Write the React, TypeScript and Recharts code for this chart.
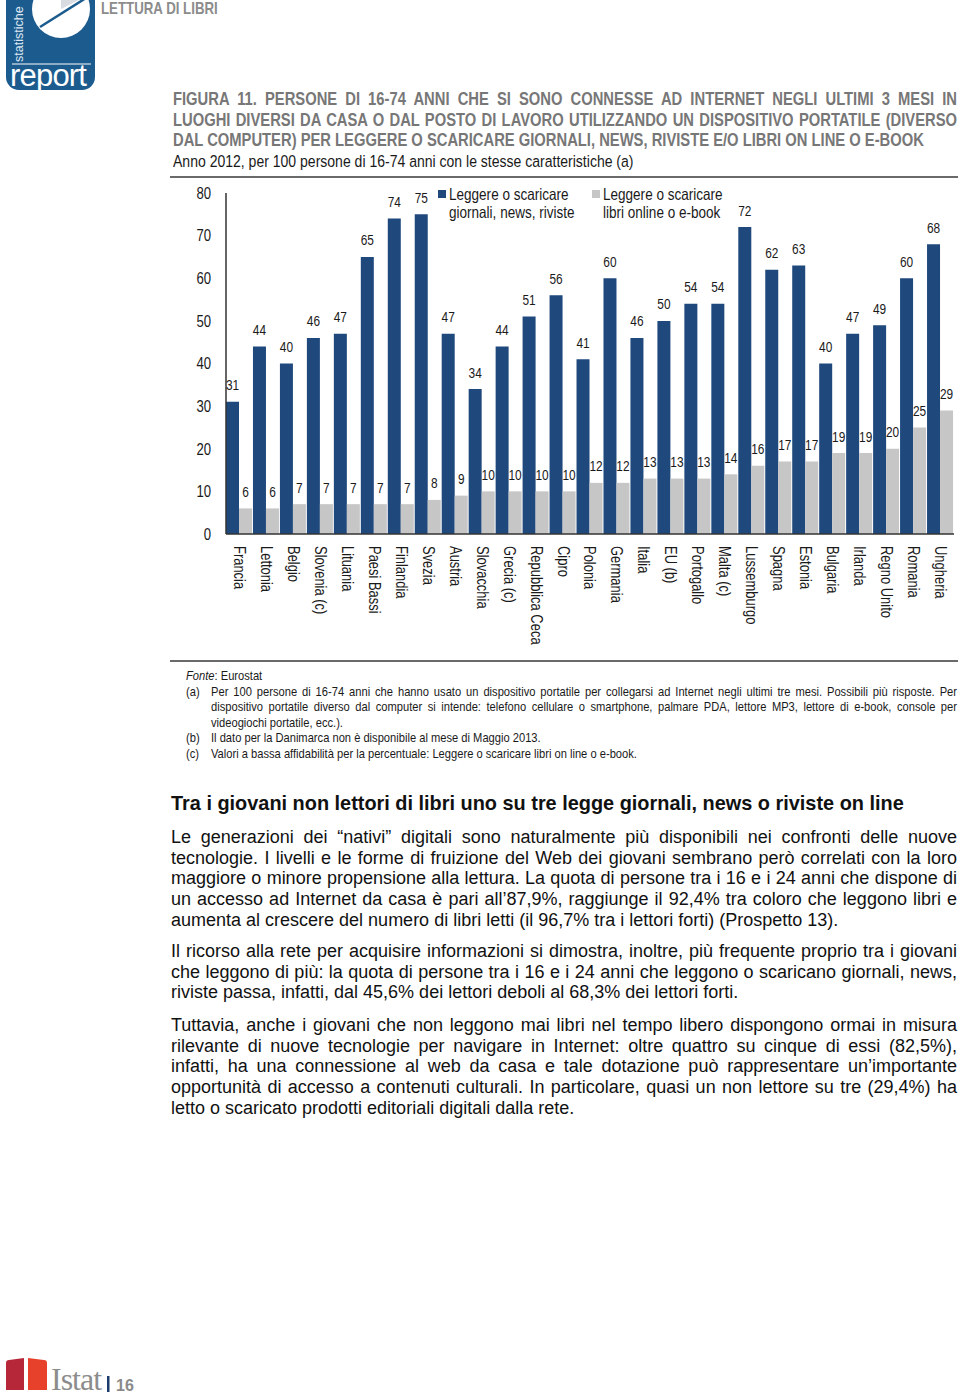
import React from 'react'
import { BarChart, Bar, XAxis, YAxis, Legend, LabelList } from 'recharts'

// paesi in ordine crescente di "libri online o e-book"
const countries = [
  'Francia', 'Lettonia', 'Belgio', 'Slovenia (c)', 'Lituania', 'Paesi Bassi', 'Finlandia',
  'Svezia', 'Austria', 'Slovacchia', 'Grecia (c)', 'Repubblica Ceca', 'Cipro', 'Polonia',
  'Germania', 'Italia', 'EU (b)', 'Portogallo', 'Malta (c)', 'Lussemburgo', 'Spagna',
  'Estonia', 'Bulgaria', 'Irlanda', 'Regno Unito', 'Romania', 'Ungheria',
]
const giornali = [31, 44, 40, 46, 47, 65, 74, 75, 47, 34, 44, 51, 56, 41, 60, 46, 50, 54, 54, 72, 62, 63, 40, 47, 49, 60, 68]
const libri = [6, 6, 7, 7, 7, 7, 7, 8, 9, 10, 10, 10, 10, 12, 12, 13, 13, 13, 14, 16, 17, 17, 19, 19, 20, 25, 29]
const yTicks = [0, 10, 20, 30, 40, 50, 60, 70, 80]
const seriesNames = ['Leggere o scaricare\ngiornali, news, riviste', 'Leggere o scaricare\nlibri online o e-book']

const data = countries.map((c, i) => ({ paese: c, giornali: giornali[i], libri: libri[i] }))

// niente Arial Narrow: Liberation Sans schiacciato in orizzontale
const SANS = '"Liberation Sans", Arial, sans-serif'
const K = 0.82
const BLUE = '#1f487c'
const GREY = '#c6c6c6'
const INK = '#1a1a1a'

const titleLines = [
  'FIGURA 11. PERSONE DI 16-74 ANNI CHE SI SONO CONNESSE AD INTERNET NEGLI ULTIMI 3 MESI IN',
  'LUOGHI DIVERSI DA CASA O DAL POSTO DI LAVORO UTILIZZANDO UN DISPOSITIVO PORTATILE (DIVERSO',
  'DAL COMPUTER) PER LEGGERE O SCARICARE GIORNALI, NEWS, RIVISTE E/O LIBRI ON LINE O E-BOOK',
]

const noteA = [
  'Per 100 persone di 16-74 anni che hanno usato un dispositivo portatile per collegarsi ad Internet negli ultimi tre mesi. Possibili più risposte. Per',
  'dispositivo portatile diverso dal computer si intende: telefono cellulare o smartphone, palmare PDA, lettore MP3, lettore di e-book, console per',
  'videogiochi portatile, ecc.).',
]

const para1 = [
  'Le generazioni dei “nativi” digitali sono naturalmente più disponibili nei confronti delle nuove',
  'tecnologie. I livelli e le forme di fruizione del Web dei giovani sembrano però correlati con la loro',
  'maggiore o minore propensione alla lettura. La quota di persone tra i 16 e i 24 anni che dispone di',
  'un accesso ad Internet da casa è pari all’87,9%, raggiunge il 92,4% tra coloro che leggono libri e',
  'aumenta al crescere del numero di libri letti (il 96,7% tra i lettori forti) (Prospetto 13).',
]
const para2 = [
  'Il ricorso alla rete per acquisire informazioni si dimostra, inoltre, più frequente proprio tra i giovani',
  'che leggono di più: la quota di persone tra i 16 e i 24 anni che leggono o scaricano giornali, news,',
  'riviste passa, infatti, dal 45,6% dei lettori deboli al 68,3% dei lettori forti.',
]
const para3 = [
  'Tuttavia, anche i giovani che non leggono mai libri nel tempo libero dispongono ormai in misura',
  'rilevante di nuove tecnologie per navigare in Internet: oltre quattro su cinque di essi (82,5%),',
  'infatti, ha una connessione al web da casa e tale dotazione può rappresentare un’importante',
  'opportunità di accesso a contenuti culturali. In particolare, quasi un non lettore su tre (29,4%) ha',
  'letto o scaricato prodotti editoriali digitali dalla rete.',
]

// righe giustificate una per una, l'ultima resta a sinistra
function Lines({ lines, style }: { lines: string[]; style?: React.CSSProperties }) {
  return (
    <div style={style}>
      {lines.map((l, i) => (
        <div key={i} style={{ textAlign: 'justify', textAlignLast: i < lines.length - 1 ? 'justify' : 'left', whiteSpace: 'nowrap' }}>
          {l}
        </div>
      ))}
    </div>
  )
}

// blocco html "narrow"
function Narrow({ left, top, width, style, children }: any) {
  return (
    <div
      style={{
        position: 'absolute', left, top, width: width ? width / K : undefined,
        transform: `scaleX(${K})`, transformOrigin: 'left top', fontFamily: SANS, ...style,
      }}
    >
      {children}
    </div>
  )
}

const CountryTick = (props: any) => {
  const { x, y, payload } = props
  return (
    <text
      transform={`translate(${x},${y + 12}) rotate(90) scale(${K},1)`}
      dy="0.35em" textAnchor="start" fill={INK} fontSize={15.8} fontFamily={SANS}
    >
      {payload.value}
    </text>
  )
}

const ValueTick = (props: any) => {
  const { x, y, payload } = props
  return (
    <text transform={`translate(${x},${y}) scale(${K},1)`} dy="0.36em" textAnchor="end" fill={INK} fontSize={16} fontFamily={SANS}>
      {payload.value}
    </text>
  )
}

const BarValue = (props: any) => {
  const { x, y, width, value } = props
  return (
    <text transform={`translate(${x + width / 2},${y - 11.5}) scale(${K},1)`} textAnchor="middle" fill={INK} fontSize={14.5} fontFamily={SANS}>
      {value}
    </text>
  )
}

const LegendBox = (props: any) => {
  const payload = props.payload || []
  return (
    <div style={{ position: 'relative', width: 300, height: 40 }}>
      {payload.map((p: any, i: number) => (
        <div key={i} style={{ position: 'absolute', left: i * 154, top: 0, display: 'flex', alignItems: 'flex-start' }}>
          <span style={{ width: 8, height: 8, background: p.color, marginTop: 5, marginRight: 3, flex: 'none' }} />
          <span
            style={{
              whiteSpace: 'pre', lineHeight: '18px', fontSize: 16.5, fontFamily: SANS, color: INK, textAlign: 'left',
              transform: `scaleX(${K})`, transformOrigin: 'left top', display: 'inline-block',
            }}
          >
            {p.value}
          </span>
        </div>
      ))}
    </div>
  )
}

function Logo() {
  return (
    <svg width={100} height={95} style={{ position: 'absolute', left: 0, top: 0 }}>
      <rect x={6} y={-14} width={89} height={104} rx={13} fill="#1b5b8e" />
      <circle cx={61} cy={9} r={29} fill="#ffffff" />
      <path d="M61,9 L61,-20 A29,29 0 0 1 87,-4 Z" fill="#d9dde2" />
      <line x1={40} y1={27} x2={86} y2={-2} stroke="#1b5b8e" strokeWidth={2.5} />
      <text transform="translate(23,62) rotate(-90)" fill="#dfe8f2" fontSize={12.5} fontFamily={SANS}>statistiche</text>
      <line x1={12} y1={64} x2={91} y2={64} stroke="#ffffff" strokeWidth={1} />
      <text x={10} y={86} fill="#ffffff" fontSize={31} fontFamily={SANS} letterSpacing={-0.8}>report</text>
    </svg>
  )
}

function Footer() {
  return (
    <div style={{ position: 'absolute', left: 0, top: 1355, width: 200, height: 45 }}>
      <svg width={200} height={45}>
        <path d="M6,8 Q6,5 9,5 L24,3 L24,35 L6,35 Z" fill="#b62739" />
        <path d="M28,3 L44,5 Q47,5 47,8 L47,35 L28,35 Z" fill="#e8412b" />
        <text x={51} y={35} fill="#8c8c8c" fontSize={32} fontFamily='"Liberation Serif", "DejaVu Serif", serif' letterSpacing={-1}>Istat</text>
        <rect x={107} y={21} width={2.5} height={16} fill="#1b3d6e" />
        <text x={116} y={36} fill="#8a8a8a" fontSize={16} fontWeight={700} fontFamily={SANS}>16</text>
      </svg>
    </div>
  )
}

const para = { fontFamily: SANS, fontSize: 18, lineHeight: '20.7px', color: '#111111' }

export default function App() {
  return (
    <div style={{ position: 'absolute', left: 0, top: 0, width: 960, height: 1400, background: '#ffffff', overflow: 'hidden' }}>
      <Logo />
      <Narrow left={101} top={-1} style={{ fontWeight: 700, fontSize: 16.2, color: '#8c8c8c' }}>LETTURA DI LIBRI</Narrow>

      <Narrow left={173} top={89} width={784} style={{ fontWeight: 700, fontSize: 18, lineHeight: '20.6px', color: '#777777' }}>
        <Lines lines={titleLines} />
      </Narrow>
      <Narrow left={173} top={152} style={{ fontSize: 17.1, lineHeight: '20px', color: INK, whiteSpace: 'nowrap' }}>
        Anno 2012, per 100 persone di 16-74 anni con le stesse caratteristiche (a)
      </Narrow>
      <div style={{ position: 'absolute', left: 170, top: 176, width: 788, height: 2, background: '#6a6a6a' }} />

      <div style={{ position: 'absolute', left: 170, top: 178 }}>
        <BarChart
          width={790}
          height={484}
          data={data}
          margin={{ top: 15, right: 6, left: 0, bottom: 0 }}
          barCategoryGap={0}
          barGap={0}
        >
          <XAxis
            dataKey="paese"
            interval={0}
            height={128}
            tickLine={false}
            tickSize={0}
            tickMargin={0}
            axisLine={{ stroke: '#333333', strokeWidth: 1.5 }}
            tick={<CountryTick />}
          />
          <YAxis
            width={56}
            domain={[0, 80]}
            ticks={yTicks}
            interval={0}
            tickLine={false}
            tickSize={0}
            tickMargin={15}
            axisLine={{ stroke: '#333333', strokeWidth: 1.5 }}
            tick={<ValueTick />}
          />
          <Legend
            verticalAlign="middle"
            align="center"
            content={<LegendBox />}
            wrapperStyle={{ position: 'absolute', left: 268, top: 7, width: 300 }}
          />
          <Bar dataKey="giornali" name={seriesNames[0]} fill={BLUE} isAnimationActive={false}>
            <LabelList dataKey="giornali" content={<BarValue />} />
          </Bar>
          <Bar dataKey="libri" name={seriesNames[1]} fill={GREY} isAnimationActive={false}>
            <LabelList dataKey="libri" content={<BarValue />} />
          </Bar>
        </BarChart>
      </div>

      <div style={{ position: 'absolute', left: 170, top: 660, width: 788, height: 2, background: '#6a6a6a' }} />

      <Narrow left={186} top={668} width={771} style={{ fontSize: 13.6, lineHeight: '15.6px', color: INK }}>
        <div><i>Fonte</i>: Eurostat</div>
        <div style={{ display: 'flex' }}>
          <span style={{ width: 25 / K, flex: 'none' }}>(a)</span>
          <Lines lines={noteA} style={{ width: 746 / K }} />
        </div>
        <div style={{ display: 'flex' }}>
          <span style={{ width: 25 / K, flex: 'none' }}>(b)</span>
          <span>Il dato per la Danimarca non è disponibile al mese di Maggio 2013.</span>
        </div>
        <div style={{ display: 'flex' }}>
          <span style={{ width: 25 / K, flex: 'none' }}>(c)</span>
          <span>Valori a bassa affidabilità per la percentuale: Leggere o scaricare libri on line o e-book.</span>
        </div>
      </Narrow>

      <div style={{ position: 'absolute', left: 171, top: 792, fontFamily: SANS, fontWeight: 700, fontSize: 19.9, color: '#111111', whiteSpace: 'nowrap' }}>
        Tra i giovani non lettori di libri uno su tre legge giornali, news o riviste on line
      </div>

      <Lines lines={para1} style={{ position: 'absolute', left: 171, top: 827, width: 786, ...para }} />
      <Lines lines={para2} style={{ position: 'absolute', left: 171, top: 941, width: 786, ...para }} />
      <Lines lines={para3} style={{ position: 'absolute', left: 171, top: 1015, width: 786, ...para }} />

      <Footer />
    </div>
  )
}
